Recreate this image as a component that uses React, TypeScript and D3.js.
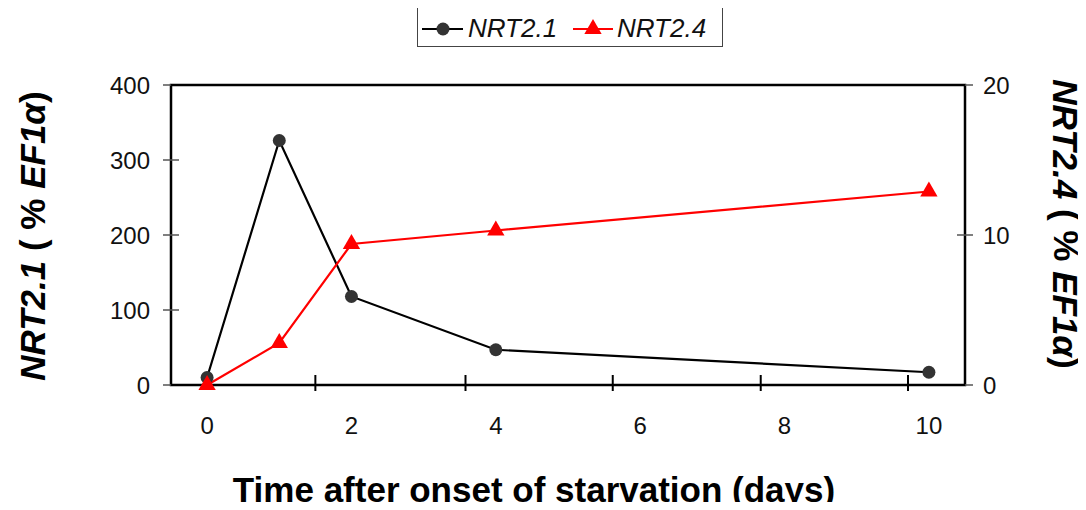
import React from 'react';
import * as d3 from 'd3';

const days = [0, 1, 2, 4, 10];
const nrt21 = [10, 326, 118, 47, 17];
const nrt24 = [0, 2.8, 9.4, 10.3, 12.9];
const xLabels = [0, 2, 4, 6, 8, 10];
const xTickMarks = [1.5, 3.58, 5.62, 7.67, 9.71];
const yLeftTicks = [0, 100, 200, 300, 400];
const yRightTicks = [0, 10, 20];

const width = 1086;
const height = 510;
const margin = { left: 171, right: 965, top: 85, bottom: 385 };
const font = '"Liberation Sans", Arial, sans-serif';

function App() {
  const x = d3.scaleLinear().domain([-0.5, 10.5]).range([margin.left, margin.right]);
  const yL = d3.scaleLinear().domain([0, 400]).range([margin.bottom, margin.top]);
  const yR = d3.scaleLinear().domain([0, 20]).range([margin.bottom, margin.top]);

  const lineL = d3.line<number>().x((_, i) => x(days[i])).y(d => yL(d));
  const lineR = d3.line<number>().x((_, i) => x(days[i])).y(d => yR(d));
  const tri = d3.symbol(d3.symbolTriangle, 130)();

  return (
    <svg width={width} height={height} style={{ display: 'block', margin: '-8px' }} fontFamily={font}>
      <rect width={width} height={height} fill="#fff" />

      {/* frame */}
      <rect x={margin.left} y={margin.top} width={margin.right - margin.left} height={margin.bottom - margin.top}
        fill="none" stroke="#000" strokeWidth={2.5} />

      {/* left axis */}
      {yLeftTicks.map(t => (
        <g key={'l' + t}>
          <line x1={margin.left - 8} x2={t === 0 || t === 400 ? margin.left : margin.left + 8}
            y1={yL(t)} y2={yL(t)} stroke="#555" strokeWidth={1.5} />
          <text x={150} y={yL(t)} dy="0.36em" textAnchor="end" fontSize={24} fill="#111">{t}</text>
        </g>
      ))}

      {/* right axis */}
      {yRightTicks.map(t => (
        <g key={'r' + t}>
          <line x1={t === 0 || t === 20 ? margin.right : margin.right - 8} x2={margin.right + 8}
            y1={yR(t)} y2={yR(t)} stroke="#555" strokeWidth={1.5} />
          <text x={983} y={yR(t)} dy="0.36em" textAnchor="start" fontSize={24} fill="#111">{t}</text>
        </g>
      ))}

      {/* bottom axis */}
      {xTickMarks.map(t => (
        <line key={'t' + t} x1={x(t)} x2={x(t)} y1={margin.bottom - 10} y2={margin.bottom + 6}
          stroke="#000" strokeWidth={2} />
      ))}
      {xLabels.map(t => (
        <text key={'x' + t} x={x(t)} y={434} textAnchor="middle" fontSize={24} fill="#111">{t}</text>
      ))}

      {/* series */}
      <path d={lineL(nrt21) || ''} fill="none" stroke="#000" strokeWidth={2.2} />
      <path d={lineR(nrt24) || ''} fill="none" stroke="#ff0000" strokeWidth={2.2} />
      {nrt21.map((v, i) => (
        <circle key={'c' + i} cx={x(days[i])} cy={yL(v)} r={6.5} fill="#333" />
      ))}
      {nrt24.map((v, i) => (
        <path key={'p' + i} d={tri || ''} transform={`translate(${x(days[i])},${yR(v)})`} fill="#ff0000" />
      ))}

      {/* axis titles */}
      <text transform="translate(32,236) rotate(-90)" textAnchor="middle" dominantBaseline="central"
        fontSize={35} fontWeight="bold" fill="#000">
        <tspan fontStyle="italic">NRT2.1</tspan> ( % <tspan fontStyle="italic">EF1α</tspan>)
      </text>
      <text transform="translate(1066,224) rotate(90)" textAnchor="middle" dominantBaseline="central"
        fontSize={35} fontWeight="bold" fill="#000">
        <tspan fontStyle="italic">NRT2.4</tspan> ( % <tspan fontStyle="italic">EF1α</tspan>)
      </text>
      <text x={534} y={502} textAnchor="middle" fontSize={35} fontWeight="bold" fill="#000">
        Time after onset of starvation (days)
      </text>

      {/* legend */}
      <rect x={417.5} y={7.5} width={305} height={39} fill="#fff" stroke="#444" strokeWidth={1} />
      <line x1={422} x2={463} y1={29} y2={29} stroke="#000" strokeWidth={2.2} />
      <circle cx={443} cy={29} r={6.5} fill="#333" />
      <text x={468} y={37} fontSize={26} fontStyle="italic" fill="#111">NRT2.1</text>
      <line x1={573} x2={613} y1={29} y2={29} stroke="#ff0000" strokeWidth={2.2} />
      <path d={tri || ''} transform="translate(593,29)" fill="#ff0000" />
      <text x={617} y={37} fontSize={26} fontStyle="italic" fill="#111">NRT2.4</text>
    </svg>
  );
}

export default App;
